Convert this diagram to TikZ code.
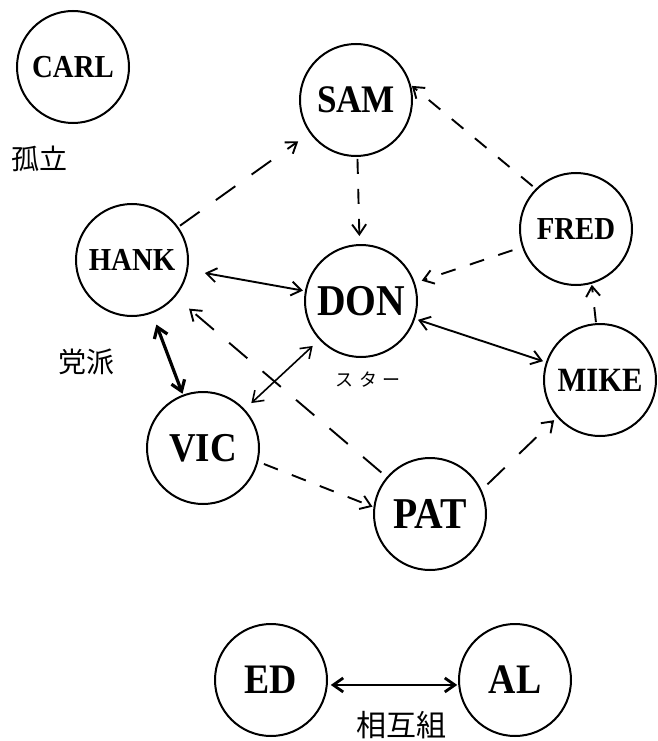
\documentclass[tikz,border=0pt]{standalone}
\usepackage{fontspec}
\usepackage{graphicx}
\setmainfont{Liberation Serif}
\newfontfamily\jpfont{Noto Sans CJK JP}
\usetikzlibrary{arrows.meta}
\newcommand{\nmtext}[2]{\fontsize{#1}{#1}\selectfont\bfseries\scalebox{0.9}[1]{#2}}
\begin{document}
\begin{tikzpicture}[x=1pt,y=-1pt,
  person/.style={circle, draw, line width=2pt, minimum size=112pt, inner sep=0pt},
  link/.style={line width=1.9pt},
  tip/.style={-{Straight Barb[length=10pt,width=14pt]}},
  both/.style={{Straight Barb[length=10pt,width=14pt]}-{Straight Barb[length=10pt,width=14pt]}},
  dl/.style={dash pattern=on 24pt off 20pt},
  ds/.style={dash pattern=on 15pt off 15pt},
  lab/.style={font=\jpfont\fontsize{28}{28}\selectfont, inner sep=0pt}
]
\useasboundingbox (0,0) rectangle (657,741);
\node[person] (carl) at (73,67) {\nmtext{32}{CARL}};
\node[person] (sam) at (356,100) {\nmtext{39}{SAM}};
\node[person] (hank) at (132,260) {\nmtext{32}{HANK}};
\node[person] (don) at (361,301) {\nmtext{44}{DON}};
\node[person] (fred) at (576,229) {\nmtext{32}{FRED}};
\node[person] (mike) at (600,380) {\nmtext{34}{MIKE}};
\node[person] (vic) at (203,448) {\nmtext{41}{VIC}};
\node[person] (pat) at (430,514) {\nmtext{44}{PAT}};
\node[person] (ed) at (271,680) {\nmtext{42}{ED}};
\node[person] (al) at (515,680) {\nmtext{42}{AL}};

\draw[link,dl,tip,shorten <=2pt,shorten >=14pt] (hank) -- (sam);
\draw[link,ds,tip,shorten <=2pt,shorten >=8pt] (sam) -- (don);
\draw[link,ds,tip,shorten <=4pt,shorten >=1pt] (fred.135) -- (sam.15);
\draw[link,ds,tip,shorten <=10pt,shorten >=7pt] (fred) -- (don);
\draw[link,ds,tip,shorten <=1pt,shorten >=1pt] (mike.94) -- (fred.-74);
\draw[link,both,shorten <=3pt,shorten >=3pt] (don) -- (mike);
\draw[link,both,shorten <=17pt,shorten >=2pt] (hank) -- (don);
\draw[link,both,line width=3.2pt,shorten <=12pt,shorten >=1pt] (hank) -- (vic);
\draw[link,both,line width=1.6pt,shorten <=9pt,shorten >=9pt] (don) -- (vic);
\draw[link,dl,tip,shorten <=7pt,shorten >=18pt] (pat) -- (hank);
\draw[link,ds,tip,shorten <=6pt,shorten >=1pt] (vic.-14) -- (pat.173);
\draw[link,dl,tip,shorten <=8pt,shorten >=4pt] (pat.25) -- (mike.221);
\draw[link,both,line width=2.8pt,shorten <=3pt,shorten >=1pt] (ed.-5) -- (al.185);

\node[lab] (koritsu) at (40,159) {孤立};
\node[lab] (toha) at (86,362) {党派};
\node[lab,font=\jpfont\fontsize{18}{18}\selectfont] (star) at (368,380) {ス\hspace{7pt}タ\hspace{5pt}ー};
\node[lab,font=\jpfont\fontsize{30}{30}\selectfont] (sogo) at (401,725) {相互組};
\end{tikzpicture}
\end{document}
